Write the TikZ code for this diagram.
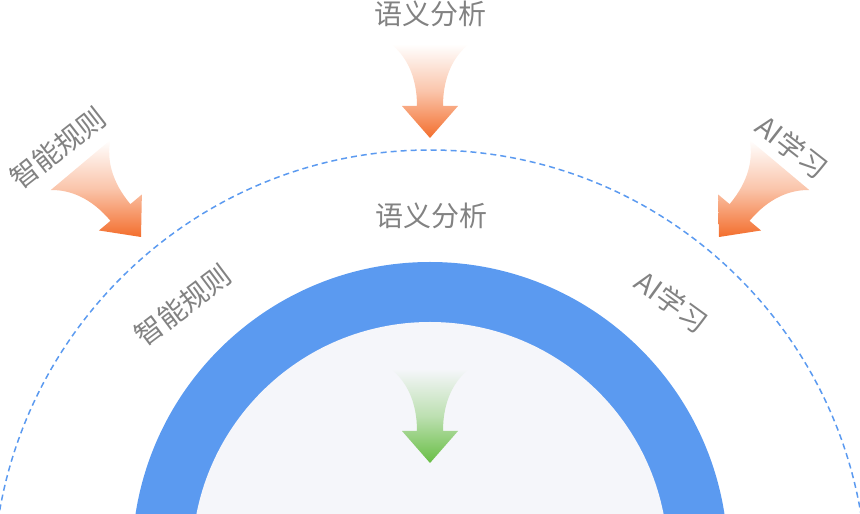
\documentclass[tikz,border=0pt]{standalone}
\usepackage{fontspec}
\newfontfamily\cjkfont{Noto Sans CJK SC}
\definecolor{ringblue}{RGB}{91,154,240}
\definecolor{coreback}{RGB}{245,246,250}
\definecolor{labelgray}{RGB}{130,130,130}
\definecolor{floworange}{RGB}{243,110,45}
\definecolor{flowgreen}{RGB}{104,190,68}
\tikzset{
  lbl/.style={text=labelgray, inner sep=0pt, font=\cjkfont\fontsize{28}{32}\selectfont},
  pics/flowarrow/.style args={#1/#2/#3}{code={
    \shade[rotate=#3, shading angle=#3, top color=#2, bottom color=#1, middle color=#1!40!#2]
      (0,0) -- (-28,32) -- (-13,32) .. controls (-13,62) and (-24,82) .. (-39,94)
      -- (39,94) .. controls (24,82) and (13,62) .. (13,32) -- (28,32) -- cycle;
  }}
}
\begin{document}
\begin{tikzpicture}[x=1pt,y=1pt]
  \useasboundingbox (0,0) rectangle (860,514);
  \clip (0,0) rectangle (860,514);
  \coordinate (hub) at (430,-46);
  \coordinate (rim) at (430,-73);
  % outer dashed ring
  \draw[ringblue, line width=1.5pt, dash pattern=on 6pt off 4pt] (rim) circle[radius=437];
  % blue band and core
  \fill[ringblue] (hub) circle[radius=298];
  \fill[coreback] (hub) circle[radius=238];
  % labels
  \node[lbl] (topA) at (430,500) {语义分析};
  \node[lbl, rotate=38] (leftA) at (58,366) {智能规则};
  \node[lbl, rotate=-38] (rightA) at (792,367) {AI学习};
  \node[lbl] (topB) at (431,298) {语义分析};
  \node[lbl, rotate=37] (leftB) at (183,209) {智能规则};
  \node[lbl, rotate=-36] (rightB) at (672,212) {AI学习};
  % arrows
  \pic at (430,376) {flowarrow={floworange/white/0}};
  \pic at (141,277) {flowarrow={floworange/white/40}};
  \pic at (719,277) {flowarrow={floworange/white/-40}};
  \pic at (430,51) {flowarrow={flowgreen/coreback/0}};
\end{tikzpicture}
\end{document}
